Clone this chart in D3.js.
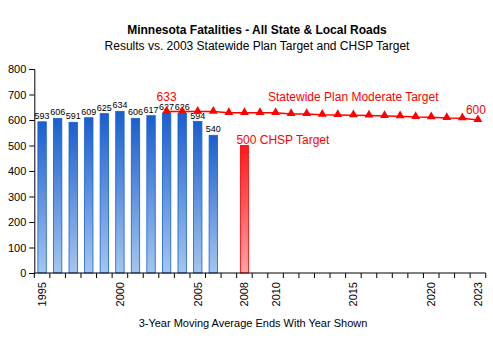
<!DOCTYPE html>
<html>
<head>
<meta charset="utf-8">
<title>Minnesota Fatalities</title>
<script src="https://d3js.org/d3.v7.min.js"></script>
<style>
  body { margin: 0; background: #fff; }
  text { font-family: "Liberation Sans", Arial, sans-serif; }
</style>
</head>
<body>
<div id="chart"></div>
<script>
// years on the x axis (3-year moving average ending that year)
const years = d3.range(1995, 2024);
const tickYears = [1995, 2000, 2005, 2008, 2010, 2015, 2020, 2023];
const yTicks = [0, 100, 200, 300, 400, 500, 600, 700, 800];

// actual results
const resultYears = [1995, 1996, 1997, 1998, 1999, 2000, 2001, 2002, 2003, 2004, 2005, 2006];
const resultValues = [593, 606, 591, 609, 625, 634, 606, 617, 627, 626, 594, 540];

// CHSP target bar
const chspYear = 2008;
const chspValue = 500;

// statewide plan moderate target line
const targetYears = d3.range(2003, 2024);
const targetValues = [633, 633, 633, 633, 628, 628, 628, 628, 624, 624, 621, 620,
                      619, 618, 616, 615, 612, 611, 608, 607, 600];

const width = 493, height = 348;
const margin = { left: 34.3, right: 7.3, top: 69, bottom: 75 };

const svg = d3.select("#chart").append("svg")
  .attr("width", width).attr("height", height);

const defs = svg.append("defs");
const blue = defs.append("linearGradient").attr("id", "blueGrad")
  .attr("x1", 0).attr("y1", 0).attr("x2", 0).attr("y2", 1);
blue.append("stop").attr("offset", "0%").attr("stop-color", "#1a5fcf");
blue.append("stop").attr("offset", "100%").attr("stop-color", "#a4c6ef");
const red = defs.append("linearGradient").attr("id", "redGrad")
  .attr("x1", 0).attr("y1", 0).attr("x2", 0).attr("y2", 1);
red.append("stop").attr("offset", "0%").attr("stop-color", "#ff1a1a");
red.append("stop").attr("offset", "100%").attr("stop-color", "#ffa3a3");

const x = d3.scaleBand().domain(years)
  .range([margin.left, width - margin.right]).paddingInner(0.45).paddingOuter(0.225);
const xb = d3.scaleBand().domain(years).range([margin.left, width - margin.right]);
const y = d3.scaleLinear().domain([0, 800]).range([height - margin.bottom, margin.top]);
const cx = d => xb(d) + xb.bandwidth() / 2;

// titles
svg.append("text").attr("x", 257).attr("y", 34).attr("text-anchor", "middle")
  .attr("font-size", 12).attr("font-weight", "bold").text("Minnesota Fatalities - All State & Local Roads");
svg.append("text").attr("x", 257).attr("y", 50).attr("text-anchor", "middle")
  .attr("font-size", 12).text("Results vs. 2003 Statewide Plan Target and CHSP Target");

// result bars
svg.selectAll(".bar").data(resultYears).enter().append("rect")
  .attr("class", "bar")
  .attr("x", d => cx(d) - 4.2)
  .attr("width", 8.4)
  .attr("y", (d, i) => y(resultValues[i]))
  .attr("height", (d, i) => y(0) - y(resultValues[i]))
  .attr("fill", "url(#blueGrad)")
  .attr("stroke", "#1a5fcf").attr("stroke-width", 0.8);

svg.selectAll(".blabel").data(resultYears).enter().append("text")
  .attr("x", d => cx(d))
  .attr("y", (d, i) => y(resultValues[i]) - 3)
  .attr("text-anchor", "middle").attr("font-size", 9).attr("fill", "#000")
  .text((d, i) => resultValues[i]);

// CHSP bar
svg.append("rect")
  .attr("x", cx(chspYear) - 4).attr("width", 8)
  .attr("y", y(chspValue)).attr("height", y(0) - y(chspValue))
  .attr("fill", "url(#redGrad)").attr("stroke", "#ff0000").attr("stroke-width", 0.8);
svg.append("text").attr("x", cx(chspYear) - 8).attr("y", y(chspValue) - 2)
  .attr("font-size", 12).attr("fill", "#ff0000").text(chspValue + " CHSP Target");

// target line
const line = d3.line().x(d => cx(d)).y((d, i) => y(targetValues[i]));
svg.append("path").datum(targetYears).attr("d", line)
  .attr("fill", "none").attr("stroke", "#ff0000").attr("stroke-width", 1.5);
svg.selectAll(".tri").data(targetYears).enter().append("path")
  .attr("d", d3.symbol().type(d3.symbolTriangle).size(34))
  .attr("transform", (d, i) => `translate(${cx(d)},${y(targetValues[i]) - 0.5})`)
  .attr("fill", "#ff0000");

svg.append("text").attr("x", cx(2003)).attr("y", y(targetValues[0]) - 11)
  .attr("text-anchor", "middle").attr("font-size", 12).attr("fill", "#ff0000").text(targetValues[0]);
svg.append("text").attr("x", cx(2023) - 2).attr("y", y(targetValues[targetValues.length - 1]) - 6)
  .attr("text-anchor", "middle").attr("font-size", 12).attr("fill", "#ff0000")
  .text(targetValues[targetValues.length - 1]);
svg.append("text").attr("x", 268).attr("y", 101)
  .attr("font-size", 12).attr("fill", "#ff0000").text("Statewide Plan Moderate Target");

// y axis
const yAxis = svg.append("g").attr("transform", `translate(${margin.left},0)`)
  .call(d3.axisLeft(y).tickValues(yTicks).tickSize(5).tickPadding(3));
yAxis.selectAll("text").attr("font-size", 11).attr("fill", "#000")
  .attr("font-family", "Liberation Sans, Arial, sans-serif");
yAxis.select(".domain").attr("stroke", "#000");
yAxis.selectAll(".tick line").attr("stroke", "#000");

// x axis: ticks between bands
const xg = svg.append("g").attr("transform", `translate(0,${y(0)})`);
xg.append("line").attr("x1", margin.left).attr("x2", width - margin.right)
  .attr("stroke", "#000");
xg.selectAll(".xt").data(d3.range(years.length + 1)).enter().append("line")
  .attr("x1", i => margin.left + i * xb.step()).attr("x2", i => margin.left + i * xb.step())
  .attr("y1", 0).attr("y2", 5).attr("stroke", "#000");
xg.selectAll(".xl").data(tickYears).enter().append("text")
  .attr("transform", d => `translate(${cx(d) + 4},9) rotate(-90)`)
  .attr("text-anchor", "end").attr("font-size", 11).attr("fill", "#000").text(d => d);

svg.append("text").attr("x", 253).attr("y", 327).attr("text-anchor", "middle")
  .attr("font-size", 11).text("3-Year Moving Average Ends With Year Shown");
</script>
</body>
</html>
